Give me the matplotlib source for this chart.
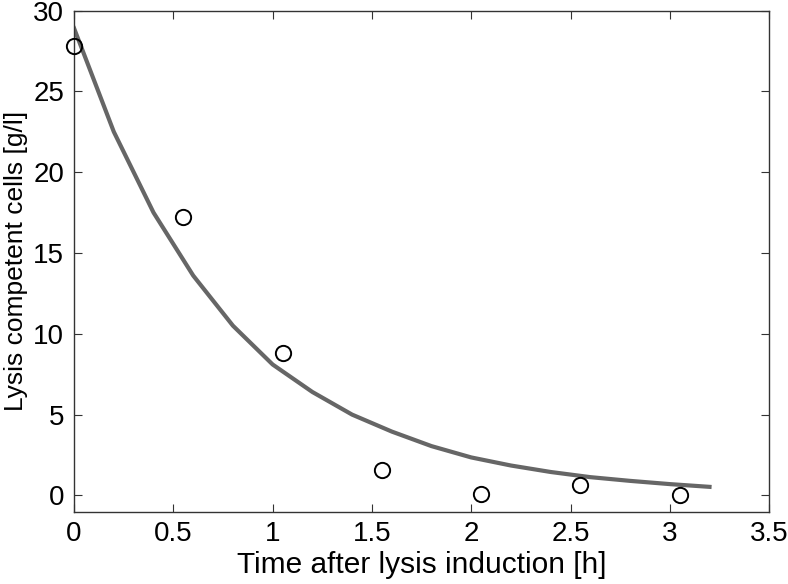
import matplotlib
matplotlib.use("Agg")
import matplotlib.pyplot as plt

# measured data (open circles)
t_meas = [0.0, 0.55, 1.05, 1.55, 2.05, 2.55, 3.05]
x_meas = [27.8, 17.2, 8.8, 1.55, 0.1, 0.62, 0.0]

# model curve
t_sim = [0.0, 0.2, 0.4, 0.6, 0.8, 1.0, 1.2, 1.4, 1.6, 1.8, 2.0, 2.2, 2.4, 2.6, 2.8, 3.0, 3.2]
x_sim = [28.9, 22.5, 17.5, 13.6, 10.5, 8.1, 6.4, 5.0, 3.95, 3.05, 2.35, 1.85, 1.45, 1.13, 0.9, 0.7, 0.53]

plt.rcParams['font.family'] = ['Liberation Sans', 'DejaVu Sans']

fig = plt.figure(figsize=(7.88, 5.84), dpi=100)
ax = fig.add_axes([0.094, 0.124, 0.882, 0.858])

ax.plot(t_sim, x_sim, color='#666666', linewidth=3, zorder=2)
ax.plot(t_meas, x_meas, linestyle='none', marker='o', markersize=11,
        markerfacecolor='none', markeredgecolor='black', markeredgewidth=1.4,
        zorder=3, clip_on=False)

ax.set_xlim(0, 3.5)
ax.set_ylim(-1, 30)
ax.set_xticks([0, 0.5, 1, 1.5, 2, 2.5, 3, 3.5])
ax.set_xticklabels(['0', '0.5', '1', '1.5', '2', '2.5', '3', '3.5'])
ax.set_yticks([0, 5, 10, 15, 20, 25, 30])

ax.tick_params(direction='in', top=True, right=True, length=6, width=0.8,
               labelsize=20, color='#333333', pad=7)
for s in ax.spines.values():
    s.set_color('#333333')
    s.set_linewidth(1.0)

ax.set_xlabel('Time after lysis induction [h]', fontsize=21.5, labelpad=3)
ax.set_ylabel('Lysis competent cells [g/l]', fontsize=19)
ax.yaxis.set_label_coords(-0.067, 0.5)

fig.savefig('out.png', dpi=100)
